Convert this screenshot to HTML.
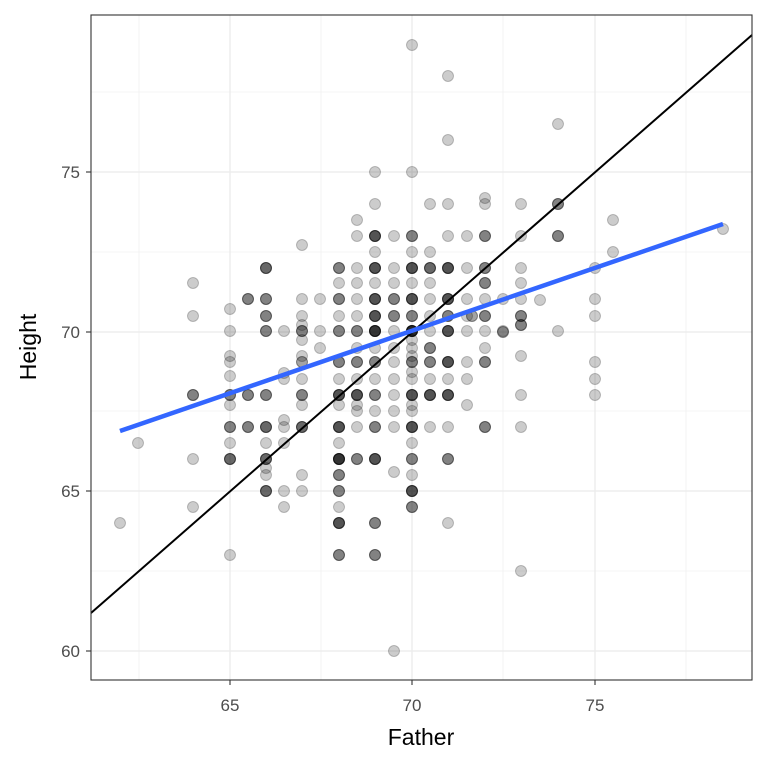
<!DOCTYPE html>
<html><head><meta charset="utf-8"><style>body{margin:0;background:#fff}svg{display:block}</style></head>
<body>
<svg id="s" width="768" height="768" xmlns="http://www.w3.org/2000/svg" font-family="Liberation Sans, sans-serif">
<rect width="768" height="768" fill="#fff"/>
<g stroke="#ebebeb" stroke-width="0.6">
<line x1="139" y1="15" x2="139" y2="680"/><line x1="321" y1="15" x2="321" y2="680"/><line x1="503" y1="15" x2="503" y2="680"/><line x1="686" y1="15" x2="686" y2="680"/>
<line x1="91" y1="92" x2="752" y2="92"/><line x1="91" y1="252" x2="752" y2="252"/><line x1="91" y1="411" x2="752" y2="411"/><line x1="91" y1="571" x2="752" y2="571"/>
</g>
<g stroke="#ebebeb" stroke-width="1.3">
<line x1="230" y1="15" x2="230" y2="680"/><line x1="412" y1="15" x2="412" y2="680"/><line x1="595" y1="15" x2="595" y2="680"/>
<line x1="91" y1="172" x2="752" y2="172"/><line x1="91" y1="332" x2="752" y2="332"/><line x1="91" y1="491" x2="752" y2="491"/><line x1="91" y1="651" x2="752" y2="651"/>
</g>
<g id="pts" fill="rgba(0,0,0,0.2)" stroke="rgba(0,0,0,0.22)" stroke-width="1"></g>
<line x1="91" y1="613" x2="752" y2="35" stroke="#000" stroke-width="2"/>
<line x1="120" y1="431" x2="723" y2="224" stroke="#3366ff" stroke-width="4.5"/>
<rect x="91" y="15" width="661" height="665" fill="none" stroke="#333" stroke-width="1.1"/>
<g stroke="#333" stroke-width="1.1">
<line x1="230" y1="680" x2="230" y2="685"/><line x1="412" y1="680" x2="412" y2="685"/><line x1="595" y1="680" x2="595" y2="685"/>
<line x1="86" y1="172" x2="91" y2="172"/><line x1="86" y1="332" x2="91" y2="332"/><line x1="86" y1="491" x2="91" y2="491"/><line x1="86" y1="651" x2="91" y2="651"/>
</g>
<g fill="#4d4d4d" font-size="17" text-anchor="end">
<text x="80" y="178">75</text><text x="80" y="338">70</text><text x="80" y="497">65</text><text x="80" y="657">60</text>
</g>
<g fill="#4d4d4d" font-size="17" text-anchor="middle">
<text x="230" y="711">65</text><text x="412" y="711">70</text><text x="595" y="711">75</text>
</g>
<text x="421" y="745" font-size="23" text-anchor="middle">Father</text>
<text transform="translate(36,347) rotate(-90)" font-size="23" text-anchor="middle">Height</text>
</svg>
<script>
var d={120:[523],138:[443],193:[283,316,395,459,507],230:[309,331,356,362,376,395,405,427,443,459,555],248:[299,395,427],266:[268,299,316,331,395,427,443,459,468,475,491],284:[331,379,373,420,427,443,491,507],302:[245,299,316,325,331,340,356,379,395,405,427,475,491],320:[299,331,348],339:[268,283,299,316,331,362,379,395,405,427,443,459,475,491,507,523,555],357:[220,236,268,283,299,316,331,348,362,379,395,405,411,427,459],375:[172,204,236,252,268,283,299,316,331,348,362,379,395,411,427,459,523,555],394:[236,268,283,299,316,331,348,362,379,395,411,427,651,472],412:[45,172,236,252,268,283,299,316,331,340,348,356,362,372,379,395,405,411,427,443,459,475,491,507],430:[204,252,268,283,299,316,331,348,362,379,395,427],448:[76,140,204,236,268,299,316,331,362,379,395,427,459,523],467:[236,268,299,316,331,362,379,405],485:[198,204,236,268,283,299,316,331,348,362,427],503:[299,331],521:[204,236,268,283,299,316,325,356,395,427,571],540:[300],558:[124,204,236,331],595:[268,299,316,362,379,395],613:[220,252],723:[229]};
var ex=[[375,236,4],[412,236,2],[485,236,2],[339,268,2],[375,268,4],[412,268,4],[430,268,3],[448,268,4],[339,299,2],[375,299,4],[394,299,2],[412,299,4],[448,299,4],[375,316,4],[394,316,2],[412,316,2],[448,316,2],[485,316,2],[339,331,2],[357,331,2],[375,331,6],[412,331,7],[448,331,4],[430,348,2],[339,362,2],[357,362,2],[375,362,2],[412,362,2],[430,362,2],[448,362,4],[485,362,2],[339,395,4],[357,395,4],[375,395,2],[412,395,4],[430,395,4],[448,395,4],[339,427,4],[375,427,2],[412,427,4],[485,427,2],[339,459,6],[357,459,2],[375,459,4],[412,459,2],[448,459,2],[339,475,2],[339,491,2],[412,491,4],[412,507,2],[339,523,4],[375,523,2],[339,555,2],[375,555,2],[266,268,3],[248,299,2],[266,299,2],[266,316,2],[266,331,2],[302,331,2],[302,362,2],[193,395,2],[230,395,2],[248,395,2],[266,395,2],[302,395,2],[230,427,2],[248,427,2],[266,427,3],[302,427,3],[230,459,3],[266,459,3],[266,491,3],[558,204,2],[558,236,2],[485,268,2],[485,283,2],[472,316,2],[521,316,2],[521,325,2],[503,332,2]];
var g=document.getElementById('pts'),h='';
function c(x,y){h+='<circle cx="'+x+'" cy="'+y+'" r="5.5"/>';}
for(var x in d)d[x].forEach(function(y){c(x,y);});
ex.forEach(function(e){for(var i=0;i<e[2];i++)c(e[0],e[1]);});
g.innerHTML=h;
</script>
</body></html>
